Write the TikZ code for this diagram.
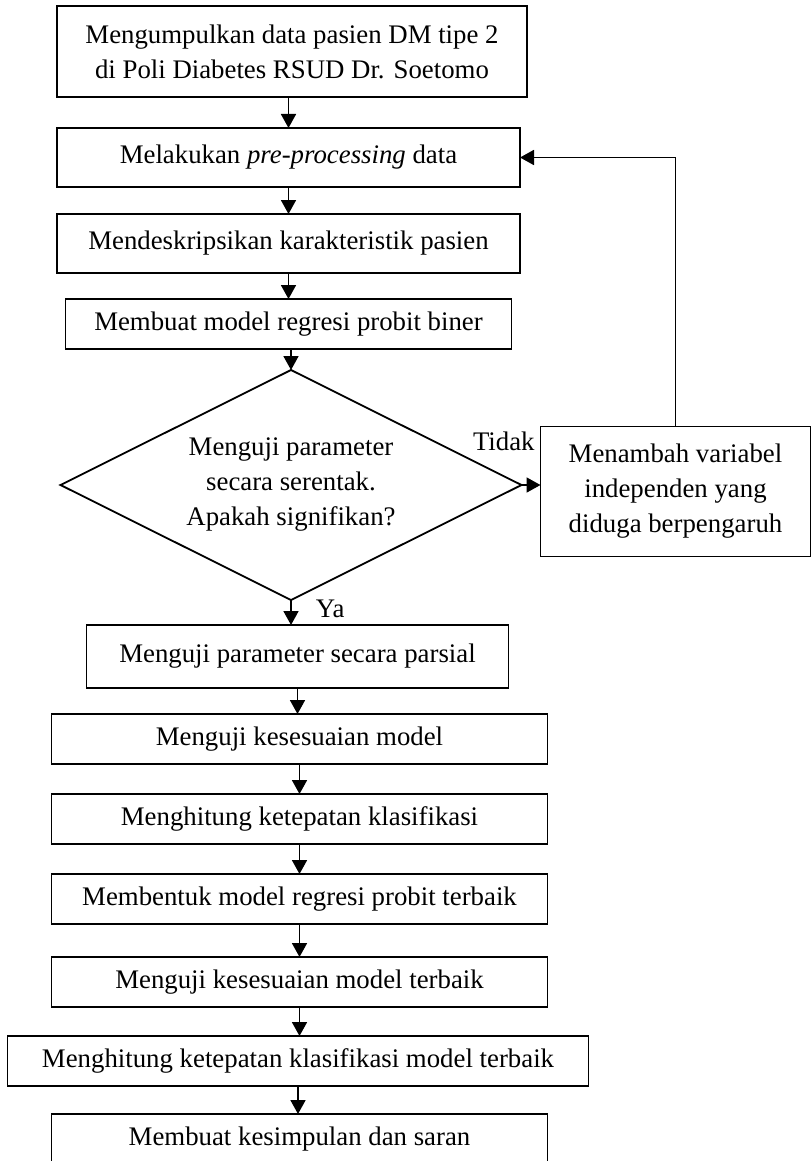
\documentclass[tikz,border=0pt]{standalone}
\usepackage{fontspec}
\setmainfont{Liberation Serif}
\usetikzlibrary{arrows.meta,positioning,shapes.geometric}
\tikzset{
  flow/node/.style={
    draw=black, line width=.9pt, fill=white,
    inner sep=2pt, outer sep=0pt, align=center,
    font=\fontsize{13.4}{17.5}\selectfont, minimum height=25pt
  },
  flow/wide/.style={flow/node, minimum width=248pt},
  flow/decision/.style={
    flow/node, diamond, shape aspect=2, inner sep=0pt,
    minimum width=230.5pt, minimum height=115pt
  },
  flow/arrow/.style={
    -{Triangle[length=7pt,width=7.5pt]}, line width=.9pt, draw=black
  },
  flow/label/.style={font=\fontsize{13.4}{17.5}\selectfont, inner sep=0pt}
}

\begin{document}
\begin{tikzpicture}
  \useasboundingbox (0,0) rectangle (405.5pt,-580.5pt);
  \clip (0,0) rectangle (405.5pt,-580.5pt);
  \node[flow/node,anchor=north,minimum width=235pt,minimum height=45.5pt] (collect) at (146pt,-3pt)
    {Mengumpulkan data pasien DM tipe 2\\di Poli Diabetes RSUD Dr. Soetomo};
  \node[flow/node,below=15.5pt of collect,xshift=-1.75pt,minimum width=231.5pt,minimum height=29.5pt] (prep)
    {Melakukan \textit{pre-processing} data};
  \node[flow/node,below=13.5pt of prep,minimum width=231.5pt,minimum height=29.5pt] (describe)
    {Mendeskripsikan karakteristik pasien};
  \node[flow/node,below=13pt of describe,minimum width=223pt] (model)
    {Membuat model regresi probit biner};
  \node[flow/decision,below=10.5pt of model,xshift=1.25pt] (simul)
    {Menguji parameter\\secara serentak.\\Apakah signifikan?};
  \node[flow/node,right=9.5pt of simul,yshift=-3.25pt,minimum width=135pt,minimum height=65pt] (addvar)
    {Menambah variabel\\independen yang\\diduga berpengaruh};
  \node[flow/node,below=12.5pt of simul,xshift=3.25pt,minimum width=211pt,minimum height=31.5pt] (partial)
    {Menguji parameter secara parsial};
  \node[flow/wide,below=13pt of partial,xshift=1pt] (fit) {Menguji kesesuaian model};
  \node[flow/wide,below=15pt of fit] (accuracy) {Menghitung ketepatan klasifikasi};
  \node[flow/wide,below=15pt of accuracy] (best) {Membentuk model regresi probit terbaik};
  \node[flow/wide,below=16.5pt of best] (bestfit) {Menguji kesesuaian model terbaik};
  \node[flow/node,below=14.5pt of bestfit,xshift=-0.75pt,minimum width=290.5pt] (bestacc)
    {Menghitung ketepatan klasifikasi model terbaik};
  \node[flow/wide,below=14pt of bestacc,xshift=0.75pt] (conclude) {Membuat kesimpulan dan saran};

  \draw[flow/arrow] (collect.south -| prep) -- (prep.north);
  \draw[flow/arrow] (prep.south) -- (describe.north);
  \draw[flow/arrow] (describe.south) -- (describe.south |- model.north);
  \draw[flow/arrow] (model.south -| simul) -- (simul.north);
  \draw[flow/arrow] (simul.east) -- (simul.east -| addvar.west)
    node[flow/label,pos=1,anchor=base east,xshift=-2.5pt,yshift=17.5pt] (no) {Tidak};
  \draw[flow/arrow] (addvar.north) |- (prep.east);
  \draw[flow/arrow] (simul.south) -- (simul.south |- partial.north)
    node[flow/label,pos=0,anchor=base west,xshift=12pt,yshift=-8.5pt] (yes) {Ya};
  \draw[flow/arrow] (partial.south) -- (partial.south |- fit.north);
  \draw[flow/arrow] (fit.south) -- (accuracy.north);
  \draw[flow/arrow] (accuracy.south) -- (best.north);
  \draw[flow/arrow] (best.south) -- (bestfit.north);
  \draw[flow/arrow] (bestfit.south) -- (bestfit.south |- bestacc.north);
  \draw[flow/arrow] (bestacc.south) -- (bestacc.south |- conclude.north);
\end{tikzpicture}
\end{document}
